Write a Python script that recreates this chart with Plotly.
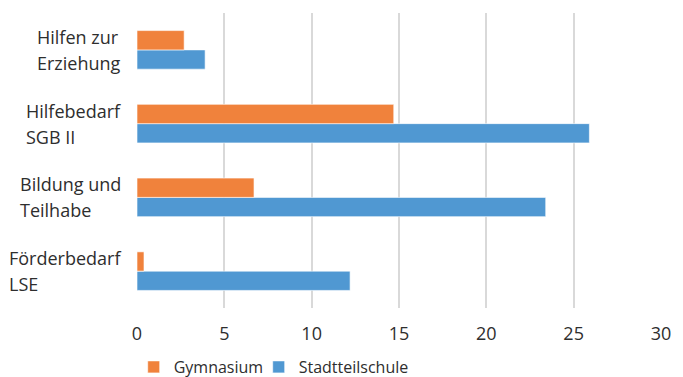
import plotly.graph_objects as go

# Categories listed bottom to top as they appear on the axis
categories = ["Förderbedarf LSE", "Bildung und Teilhabe", "Hilfebedarf SGB II", "Hilfen zur Erziehung"]
category_lines = [("Förderbedarf", "LSE"), ("Bildung und", "Teilhabe"),
                  ("Hilfebedarf", "SGB II"), ("Hilfen zur", "Erziehung")]

gymnasium = [0.4, 6.7, 14.7, 2.7]
stadtteilschule = [12.2, 23.4, 25.9, 3.9]

x_ticks = [0, 5, 10, 15, 20, 25, 30]

ORANGE = "#F0823C"
BLUE = "#5098D2"
TEXT = "#2E2E2E"
FONT = "Open Sans"

fig = go.Figure()
fig.add_trace(go.Bar(
    y=categories, x=stadtteilschule, name="Stadtteilschule", orientation="h",
    marker=dict(color=BLUE, line=dict(color="rgba(255,255,255,0.6)", width=1)),
))
fig.add_trace(go.Bar(
    y=categories, x=gymnasium, name="Gymnasium", orientation="h", legendwidth=80,
    marker=dict(color=ORANGE, line=dict(color="rgba(255,255,255,0.6)", width=1)),
))

# Two-line category labels, left-aligned within each block
for cat, (l1, l2) in zip(categories, category_lines):
    lab = f'<span style="font-size:18px">{l1}</span><br><span style="font-size:18px">{l2}</span>'
    fig.add_annotation(
        x=-0.027, xref="paper", y=cat, yref="y", text=lab, showarrow=False,
        xanchor="right", yanchor="middle", align="left",
        font=dict(family=FONT, size=20, color=TEXT),
    )

fig.update_layout(
    width=683, height=377,
    margin=dict(l=137, r=22, t=13, b=69, autoexpand=False),
    paper_bgcolor="white", plot_bgcolor="white",
    barmode="group", bargap=0.477, bargroupgap=0,
    font=dict(family=FONT, size=16, color=TEXT),
    xaxis=dict(
        range=[0, 30], tickvals=x_ticks, showgrid=True, gridcolor="#D9D9D9",
        gridwidth=1.5, zeroline=False, showline=False, ticks="",
        ticklabelstandoff=13, tickfont=dict(family=FONT, size=18, color=TEXT),
    ),
    yaxis=dict(
        categoryorder="array", categoryarray=categories, showticklabels=False,
        showgrid=False, zeroline=False, showline=False, ticks="",
    ),
    showlegend=True,
    legend=dict(
        orientation="h", traceorder="reversed", x=-0.0063, xanchor="left",
        y=-0.2, yanchor="middle", font=dict(family=FONT, size=16, color=TEXT),
        itemwidth=30,
    ),
)

fig.write_html("out.html")
